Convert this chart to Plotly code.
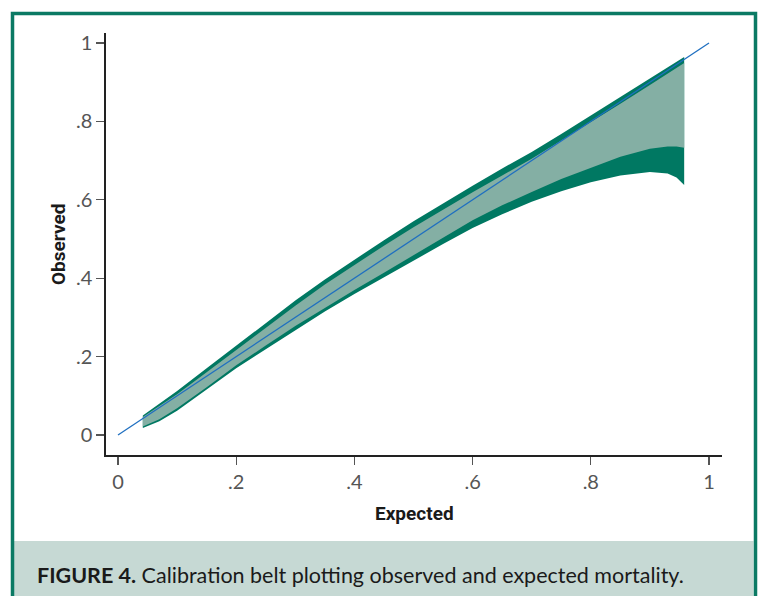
import plotly.graph_objects as go

# ---- data ----
expected = [0.042, 0.07, 0.10, 0.15, 0.20, 0.25, 0.30, 0.35, 0.40, 0.45, 0.50, 0.55, 0.60, 0.65, 0.70, 0.75, 0.80, 0.85, 0.90, 0.93, 0.945, 0.958]
upper95 = [0.050, 0.080, 0.112, 0.170, 0.228, 0.286, 0.343, 0.397, 0.448, 0.497, 0.545, 0.591, 0.636, 0.680, 0.722, 0.768, 0.815, 0.862, 0.910, 0.937, 0.951, 0.964]
upper80 = [0.046, 0.074, 0.104, 0.160, 0.217, 0.274, 0.330, 0.384, 0.434, 0.483, 0.530, 0.575, 0.619, 0.662, 0.705, 0.751, 0.797, 0.845, 0.893, 0.922, 0.936, 0.949]
lower80 = [0.022, 0.040, 0.068, 0.122, 0.178, 0.228, 0.278, 0.325, 0.370, 0.414, 0.457, 0.503, 0.548, 0.586, 0.620, 0.653, 0.682, 0.710, 0.730, 0.736, 0.736, 0.733]
lower95 = [0.018, 0.035, 0.062, 0.115, 0.170, 0.219, 0.268, 0.315, 0.360, 0.403, 0.445, 0.487, 0.528, 0.563, 0.595, 0.622, 0.645, 0.662, 0.671, 0.667, 0.657, 0.638]
diag_x = [0, 1]
diag_y = [0, 1]
tick_vals = [0, 0.2, 0.4, 0.6, 0.8, 1]
tick_text = ["0", ".2", ".4", ".6", ".8", "1"]
x_title = "Expected"
y_title = "Observed"
caption_bold = "FIGURE 4."
caption_rest = " Calibration belt plotting observed and expected mortality."

DARK = "#007862"
LIGHT = "#84afa4"
BLUE = "#1f6fc0"
FRAME = "#0b7a64"
CAPBG = "#c6d9d4"

W, H = 761, 596
L, R, T, B = 106, 722, 33, 455  # plot area in pixels


def px(x):
    return (x - L) / (R - L)


def py(y):
    return (B - y) / (B - T)


fig = go.Figure()
fig.add_trace(go.Scatter(
    x=expected + expected[::-1], y=upper95 + lower95[::-1],
    fill="toself", fillcolor=DARK, line=dict(width=0, color=DARK),
    mode="lines", hoverinfo="skip", showlegend=False))
fig.add_trace(go.Scatter(
    x=expected + expected[::-1], y=upper80 + lower80[::-1],
    fill="toself", fillcolor=LIGHT, line=dict(width=0, color=LIGHT),
    mode="lines", hoverinfo="skip", showlegend=False))
fig.add_trace(go.Scatter(
    x=diag_x, y=diag_y, mode="lines", line=dict(color=BLUE, width=1.3),
    hoverinfo="skip", showlegend=False))

tickfont = dict(family="Lato, Open Sans, sans-serif", size=20, color="#555555")
axis_common = dict(
    showgrid=False, zeroline=False, showline=True, linecolor="#222", linewidth=1.6,
    ticks="outside", ticklen=8, tickwidth=1.3, tickcolor="#555",
    tickvals=tick_vals, ticktext=tick_text, tickfont=tickfont, mirror=False,
)
fig.update_xaxes(range=[(L - 118) / 591, (R - 118) / 591], **axis_common)
fig.update_yaxes(range=[(435 - B) / 392, (435 - T) / 392], **axis_common)

fig.update_layout(
    width=W, height=H,
    margin=dict(l=L, r=W - R, t=T, b=H - B, autoexpand=False),
    paper_bgcolor="white", plot_bgcolor="white",
    shapes=[
        dict(type="rect", xref="paper", yref="paper",
             x0=px(14), x1=px(753.5), y0=py(541), y1=py(600),
             fillcolor=CAPBG, line=dict(width=0), layer="below"),
        dict(type="rect", xref="paper", yref="paper",
             x0=px(12.5), x1=px(755.5), y0=py(13.5), y1=py(620),
             fillcolor="rgba(0,0,0,0)", line=dict(width=3.5, color=FRAME), layer="above"),
    ],
    annotations=[
        dict(text="<b>" + y_title + "</b>", xref="paper", yref="paper",
             x=px(58), y=py(245), textangle=-90, showarrow=False,
             xanchor="center", yanchor="middle",
             font=dict(family="Roboto, sans-serif", size=19, color="#1a1a1a")),
        dict(text="<b>" + x_title + "</b>", xref="paper", yref="paper",
             x=px(414), y=py(513), showarrow=False,
             xanchor="center", yanchor="middle",
             font=dict(family="Roboto, sans-serif", size=19, color="#1a1a1a")),
        dict(text="<b>" + caption_bold + "</b>" + caption_rest, xref="paper", yref="paper",
             x=px(35), y=py(575), showarrow=False,
             xanchor="left", yanchor="middle",
             font=dict(family="Lato, sans-serif", size=21.5, color="#1a1a1a")),
    ],
)

fig.write_html(
    "out.html",
    config={"displayModeBar": False, "staticPlot": True},
    post_script="document.body.style.margin='0';document.body.style.overflow='hidden';",
)
